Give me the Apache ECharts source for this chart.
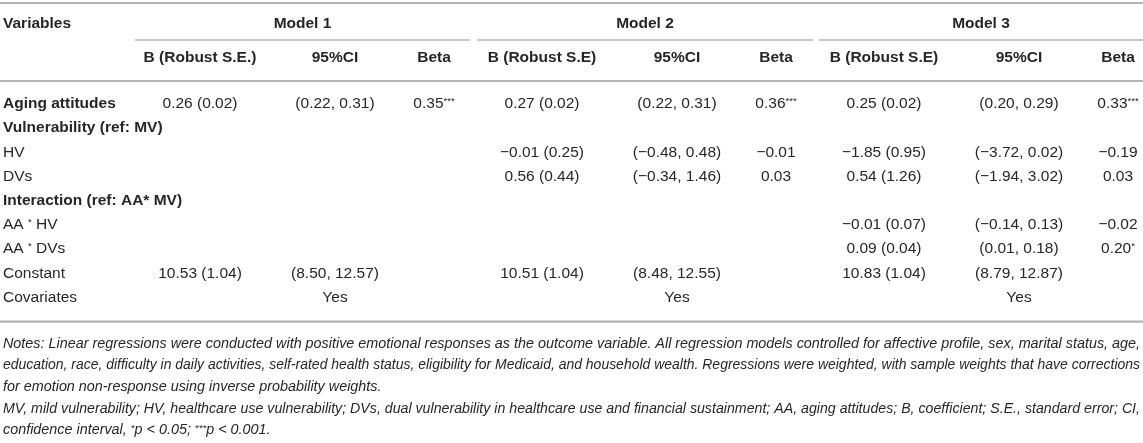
<!DOCTYPE html>
<html>
<head>
<meta charset="utf-8">
<script src="https://cdn.jsdelivr.net/npm/echarts@6/dist/echarts.min.js"></script>
<style>
    html, body {margin: 0; padding: 0; background: #fff;}
    #main {width: 1143px; height: 443px;}
</style>
</head>
<body>
<div id="main"></div>
<script>
// table content
var rowLabels = ['Aging attitudes', 'Vulnerability (ref: MV)', 'HV', 'DVs', 'Interaction (ref: AA* MV)',
    'AA * HV', 'AA * DVs', 'Constant', 'Covariates'];
var boldRows = [0, 1, 4];
var modelNames = ['Model 1', 'Model 2', 'Model 3'];
var subHeads = [
    ['B (Robust S.E.)', '95%CI', 'Beta'],
    ['B (Robust S.E)', '95%CI', 'Beta'],
    ['B (Robust S.E)', '95%CI', 'Beta']
];
var model1B    = ['0.26 (0.02)', '', '', '', '', '', '', '10.53 (1.04)'];
var model1CI   = ['(0.22, 0.31)', '', '', '', '', '', '', '(8.50, 12.57)'];
var model1Beta = ['0.35***', '', '', '', '', '', '', ''];
var model2B    = ['0.27 (0.02)', '', '−0.01 (0.25)', '0.56 (0.44)', '', '', '', '10.51 (1.04)'];
var model2CI   = ['(0.22, 0.31)', '', '(−0.48, 0.48)', '(−0.34, 1.46)', '', '', '', '(8.48, 12.55)'];
var model2Beta = ['0.36***', '', '−0.01', '0.03', '', '', '', ''];
var model3B    = ['0.25 (0.02)', '', '−1.85 (0.95)', '0.54 (1.26)', '', '−0.01 (0.07)', '0.09 (0.04)', '10.83 (1.04)'];
var model3CI   = ['(0.20, 0.29)', '', '(−3.72, 0.02)', '(−1.94, 3.02)', '', '(−0.14, 0.13)', '(0.01, 0.18)', '(8.79, 12.87)'];
var model3Beta = ['0.33***', '', '−0.19', '0.03', '', '−0.02', '0.20*', ''];
var covariates = ['Yes', 'Yes', 'Yes'];
var notes = [
    'Notes: Linear regressions were conducted with positive emotional responses as the outcome variable. All regression models controlled for affective profile, sex, marital status, age,',
    'education, race, difficulty in daily activities, self-rated health status, eligibility for Medicaid, and household wealth. Regressions were weighted, with sample weights that have corrections',
    'for emotion non-response using inverse probability weights.',
    'MV, mild vulnerability; HV, healthcare use vulnerability; DVs, dual vulnerability in healthcare use and financial sustainment; AA, aging attitudes; B, coefficient; S.E., standard error; CI,',
    'confidence interval, *p < 0.05; ***p < 0.001.'
];
var justified = [true, true, false, true, false];

var models = [
    [model1B, model1CI, model1Beta],
    [model2B, model2CI, model2Beta],
    [model3B, model3CI, model3Beta]
];

// layout
var W = 1143;
var FONT = '"Liberation Sans", Arial, Helvetica, sans-serif';
var TEXT = '#262626';
var RULE = '#b4b4b4';
var SIZE = 15.5;
var spanStart = [135, 477, 819];
var spanEnd = [470, 813, 1143];
var colOffset = [65, 200, 299];
var yHead1 = 24, yUnder = 40, yHead2 = 57.5, yRule = 81;
var rowTop = 104, rowStep = 24.2;
var noteTop = 344, noteStep = 21.6;

var ctx = document.createElement('canvas').getContext('2d');
function measure(s, font) {
    ctx.font = font;
    return ctx.measureText(s).width;
}

function sup(s) {
    return s.replace(/(\*+)/g, '{sup|$1}');
}

function text(x, y, s, opt) {
    opt = opt || {};
    return {
        type: 'text',
        x: x,
        y: y,
        scaleX: opt.scaleX || 1,
        silent: true,
        style: {
            text: s,
            x: 0,
            y: 0,
            align: opt.align || 'center',
            verticalAlign: 'middle',
            fontFamily: FONT,
            fontSize: opt.size || SIZE,
            fontWeight: opt.bold ? 'bold' : 'normal',
            fontStyle: opt.italic ? 'italic' : 'normal',
            fill: TEXT,
            rich: {
                sup: {
                    fontSize: 9.5,
                    fontFamily: FONT,
                    fontStyle: opt.italic ? 'italic' : 'normal',
                    fill: TEXT,
                    verticalAlign: 'top',
                    padding: [0, 0, 5, 0]
                }
            }
        }
    };
}

function rule(x1, x2, y, w) {
    return {
        type: 'line',
        silent: true,
        shape: {x1: x1, y1: y, x2: x2, y2: y},
        style: {stroke: RULE, lineWidth: w}
    };
}

var els = [];
els.push(rule(0, W, 3, 2.2));
els.push(rule(0, W, yRule, 2.2));
els.push(text(3, yHead1, 'Variables', {align: 'left', bold: true}));

modelNames.forEach(function (name, m) {
    var mid = (spanStart[m] + spanEnd[m]) / 2;
    els.push(text(mid, yHead1, name, {bold: true}));
    els.push(rule(spanStart[m], spanEnd[m], yUnder, 1.6));
    subHeads[m].forEach(function (h, c) {
        els.push(text(spanStart[m] + colOffset[c], yHead2, h, {bold: true}));
    });
    models[m].forEach(function (col, c) {
        col.forEach(function (v, r) {
            if (v) {
                els.push(text(spanStart[m] + colOffset[c], rowTop + r * rowStep, sup(v)));
            }
        });
    });
    els.push(text(spanStart[m] + colOffset[1], rowTop + 8 * rowStep, covariates[m]));
});

rowLabels.forEach(function (label, r) {
    var bold = boldRows.indexOf(r) >= 0;
    // the interaction term labels use a small raised asterisk
    els.push(text(3, rowTop + r * rowStep, bold ? label : sup(label), {align: 'left', bold: bold}));
});

var yBottom = rowTop + 8 * rowStep + 24;
els.push(rule(0, W, yBottom, 2.2));

var NOTE_SIZE = 14;
var noteFont = 'italic ' + NOTE_SIZE + 'px ' + FONT;
var fit = (W - 6) / measure(notes[0], noteFont);
notes.forEach(function (line, i) {
    var k = justified[i] ? (W - 6) / measure(line, noteFont) : fit;
    els.push(text(3, noteTop + i * noteStep, sup(line), {align: 'left', italic: true, size: NOTE_SIZE, scaleX: k}));
});

var chart = echarts.init(document.getElementById('main'));
chart.setOption({
    animation: false,
    graphic: {elements: els}
});
</script>
</body>
</html>
